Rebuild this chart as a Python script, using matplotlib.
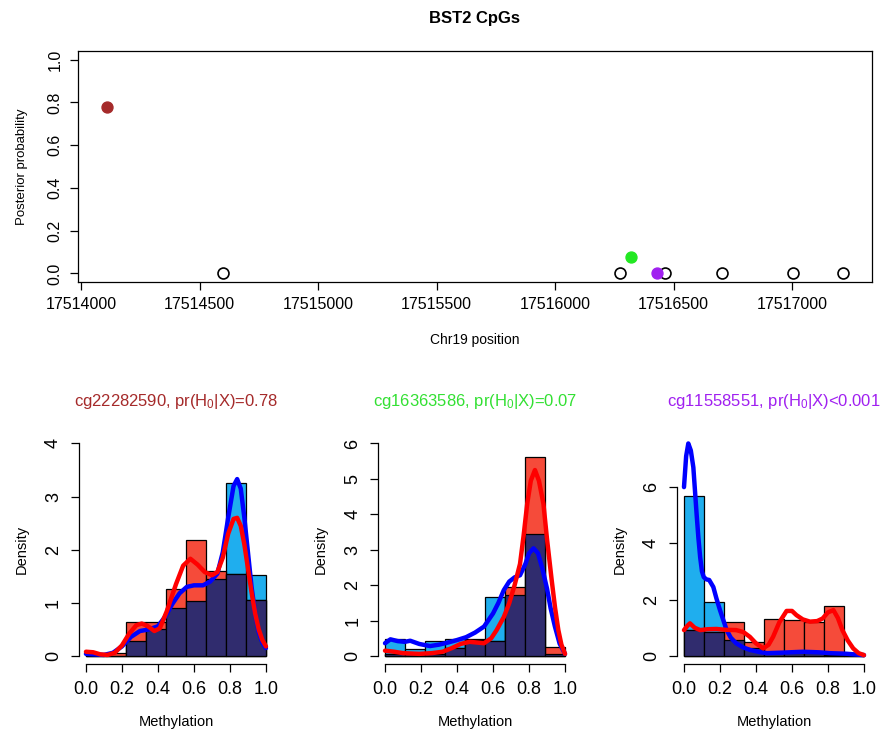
import numpy as np
import matplotlib
matplotlib.use("Agg")
import matplotlib.pyplot as plt

plt.rcParams['font.family'] = ['Liberation Sans', 'DejaVu Sans']
plt.rcParams['mathtext.default'] = 'regular'

# top panel: CpG positions and posterior probabilities
cpg_pos = [17514110, 17514600, 17516275, 17516465, 17516705, 17517005, 17517213,
           17516322, 17516431]
cpg_prob = [0.78, 0.0, 0.0, 0.0, 0.0, 0.0, 0.0, 0.075, 0.0]
cpg_col = ['#A52A2A', None, None, None, None, None, None, '#22E822', '#A020F0']

# histogram densities (9 bins on [0,1]) per panel: blue group, red group
bins = np.linspace(0, 1, 10)
hist_blue = [
    [0.03, 0.00, 0.29, 0.50, 0.91, 1.03, 1.45, 3.25, 1.52],
    [0.48, 0.20, 0.41, 0.48, 0.48, 1.66, 1.73, 3.45, 0.05],
    [5.68, 1.92, 0.57, 0.30, 0.10, 0.10, 0.10, 0.05, 0.12],
]
hist_red = [
    [0.03, 0.05, 0.64, 0.64, 1.26, 2.18, 1.60, 1.54, 1.05],
    [0.05, 0.05, 0.05, 0.22, 0.46, 0.41, 1.94, 5.61, 0.26],
    [0.93, 0.86, 1.19, 0.48, 1.33, 1.27, 1.22, 1.77, 0.05],
]

# density curves
blue_x = [
    [0.00, 0.05, 0.10, 0.15, 0.20, 0.25, 0.30, 0.35, 0.40, 0.44, 0.48, 0.52, 0.56, 0.60, 0.65,
     0.69, 0.73, 0.76, 0.79, 0.82, 0.84, 0.86, 0.88, 0.90, 0.92, 0.94, 0.96, 0.98, 1.00],
    [0.00, 0.03, 0.07, 0.11, 0.14, 0.19, 0.25, 0.30, 0.35, 0.40, 0.45, 0.50, 0.55, 0.60, 0.63,
     0.66, 0.69, 0.72, 0.75, 0.78, 0.80, 0.825, 0.85, 0.875, 0.90, 0.92, 0.944, 0.97, 1.00],
    [0.00, 0.012, 0.024, 0.038, 0.052, 0.07, 0.08, 0.09, 0.10, 0.11, 0.125, 0.14, 0.163, 0.18,
     0.20, 0.237, 0.26, 0.29, 0.33, 0.37, 0.42, 0.46, 0.55, 0.66, 0.75, 0.81, 0.90, 1.00],
]
blue_y = [
    [0.04, 0.03, 0.02, 0.06, 0.18, 0.36, 0.47, 0.50, 0.56, 0.74, 0.98, 1.18, 1.30, 1.33, 1.33,
     1.40, 1.55, 1.95, 2.60, 3.20, 3.33, 3.15, 2.60, 1.95, 1.30, 0.80, 0.45, 0.25, 0.15],
    [0.36, 0.47, 0.42, 0.40, 0.43, 0.34, 0.28, 0.32, 0.38, 0.45, 0.53, 0.66, 0.83, 1.20, 1.50,
     1.86, 2.10, 2.22, 2.28, 2.60, 2.90, 3.04, 2.90, 2.45, 1.90, 1.35, 0.83, 0.35, 0.06],
    [6.00, 7.10, 7.55, 7.30, 6.70, 5.05, 4.20, 3.50, 3.00, 2.80, 2.72, 2.70, 2.45, 2.05,
     1.63, 0.92, 0.65, 0.45, 0.30, 0.21, 0.14, 0.10, 0.12, 0.15, 0.13, 0.10, 0.08, 0.03],
]
red_x = [
    [0.00, 0.04, 0.08, 0.12, 0.16, 0.20, 0.24, 0.28, 0.31, 0.34, 0.38, 0.41, 0.45, 0.50, 0.54,
     0.58, 0.62, 0.66, 0.70, 0.73, 0.76, 0.79, 0.82, 0.84, 0.86, 0.88, 0.90, 0.92, 0.94, 0.96,
     0.98, 1.00],
    [0.00, 0.05, 0.10, 0.19, 0.26, 0.32, 0.37, 0.42, 0.47, 0.51, 0.55, 0.59, 0.62, 0.66, 0.69,
     0.72, 0.75, 0.77, 0.79, 0.81, 0.833, 0.855, 0.88, 0.90, 0.926, 0.945, 0.963, 0.98, 1.00],
    [0.00, 0.02, 0.033, 0.06, 0.09, 0.13, 0.18, 0.23, 0.29, 0.33, 0.366, 0.40, 0.44, 0.47,
     0.495, 0.53, 0.57, 0.60, 0.625, 0.66, 0.70, 0.74, 0.77, 0.80, 0.83, 0.855, 0.88, 0.91,
     0.94, 0.97, 1.00],
]
red_y = [
    [0.08, 0.07, 0.03, 0.02, 0.06, 0.20, 0.42, 0.58, 0.61, 0.57, 0.47, 0.52, 0.85, 1.35, 1.70,
     1.83, 1.72, 1.58, 1.52, 1.58, 1.85, 2.30, 2.58, 2.60, 2.45, 2.10, 1.65, 1.20, 0.80, 0.50,
     0.30, 0.18],
    [0.15, 0.12, 0.08, 0.06, 0.08, 0.12, 0.22, 0.34, 0.40, 0.38, 0.36, 0.50, 0.73, 1.10, 1.49,
     2.00, 2.60, 3.40, 4.30, 4.95, 5.25, 4.95, 4.30, 3.30, 2.14, 1.35, 0.73, 0.32, 0.06],
    [0.92, 1.08, 1.16, 1.00, 0.92, 0.95, 0.96, 0.93, 0.92, 0.85, 0.68, 0.45, 0.27, 0.40,
     0.68, 1.20, 1.60, 1.60, 1.45, 1.30, 1.22, 1.24, 1.33, 1.55, 1.63, 1.35, 0.92, 0.55,
     0.27, 0.10, 0.03],
]

titles = ['cg22282590, pr($H_0$|X)=0.78', 'cg16363586, pr($H_0$|X)=0.07',
          'cg11558551, pr($H_0$|X)<0.001']
title_cols = ['#A52A2A', '#33E033', '#A020F0']
ymax = [4.0, 6.0, 7.55]
yticks = [[0, 1, 2, 3, 4], [0, 1, 2, 3, 4, 5, 6], [0, 2, 4, 6]]

c_blue, c_red, c_navy = '#1FAEEE', '#F54B3A', '#302C6E'

fig = plt.figure(figsize=(8.84, 7.37), dpi=100)

# ---- top scatter ----
ax = fig.add_axes([0.0882, 0.6174, 0.8982, 0.3134])
for x, y, c in zip(cpg_pos, cpg_prob, cpg_col):
    if c is None:
        ax.scatter(x, y, s=62, facecolor='white', edgecolor='black', linewidth=1.2, zorder=3)
    else:
        ax.scatter(x, y, s=62, facecolor=c, edgecolor=c, linewidth=1.0, zorder=4)
rng = max(cpg_pos) - min(cpg_pos)
ax.set_xlim(min(cpg_pos) - 0.04 * rng, max(cpg_pos) + 0.04 * rng)
ax.set_ylim(-0.04, 1.04)
ax.set_xticks(np.arange(17514000, 17517001, 500))
ax.set_xticklabels([str(v) for v in range(17514000, 17517001, 500)])
ax.set_yticks([0, 0.2, 0.4, 0.6, 0.8, 1.0])
ax.set_yticklabels(['0.0', '0.2', '0.4', '0.6', '0.8', '1.0'], rotation=90, va='center')
ax.tick_params(direction='out', length=6, width=0.9, labelsize=11.5, pad=5)
for s in ax.spines.values():
    s.set_linewidth(0.9)
ax.set_title('BST2 CpGs', fontsize=12, fontweight='bold', pad=20)
ax.set_xlabel('Chr19 position', fontsize=10, labelpad=15)
ax.set_ylabel('Posterior probability', fontsize=9.5, labelpad=14)

# ---- bottom histograms ----
lefts = [0.0891, 0.4274, 0.7656]
w = bins[1] - bins[0]
for i in range(3):
    ax = fig.add_axes([lefts[i], 0.0984, 0.2199, 0.3114])
    hb = np.array(hist_blue[i])
    hr = np.array(hist_red[i])
    ax.bar(bins[:-1], hb, width=w, align='edge', color=c_blue, edgecolor='black', linewidth=0.9)
    ax.bar(bins[:-1], hr, width=w, align='edge', color=c_red, edgecolor='black', linewidth=0.9)
    ax.bar(bins[:-1], np.minimum(hb, hr), width=w, align='edge', color=c_navy,
           edgecolor='black', linewidth=0.9)
    ax.plot(blue_x[i], blue_y[i], color='#0000FF', lw=3.2, solid_capstyle='round',
            solid_joinstyle='round', zorder=5)
    ax.plot(red_x[i], red_y[i], color='#FF0000', lw=3.2, solid_capstyle='round',
            solid_joinstyle='round', zorder=6)
    ax.set_xlim(-0.04, 1.04)
    ax.set_ylim(-0.04 * ymax[i], 1.04 * ymax[i])
    ax.set_xticks([0, 0.2, 0.4, 0.6, 0.8, 1.0])
    ax.set_xticklabels(['0.0', '0.2', '0.4', '0.6', '0.8', '1.0'])
    ax.set_yticks(yticks[i])
    ax.set_yticklabels([str(t) for t in yticks[i]], rotation=90, va='center')
    ax.spines['top'].set_visible(False)
    ax.spines['right'].set_visible(False)
    ax.spines['bottom'].set_bounds(0, 1)
    ax.spines['left'].set_bounds(0, yticks[i][-1])
    for s in ax.spines.values():
        s.set_linewidth(0.9)
    ax.tick_params(direction='out', length=6, width=0.9, labelsize=13, pad=6)
    ax.set_title(titles[i], color=title_cols[i], fontsize=12, pad=21)
    ax.set_xlabel('Methylation', fontsize=10.5, labelpad=12)
    ax.set_ylabel('Density', fontsize=10.5, labelpad=12)

fig.savefig('out.png', dpi=100)
